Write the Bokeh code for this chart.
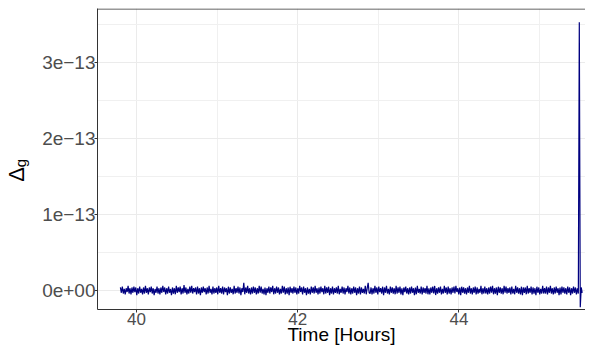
import numpy as np
from bokeh.plotting import figure
from bokeh.models import FixedTicker, Span, Range1d, LinearAxis
from bokeh.embed import file_html
from bokeh.resources import INLINE

# ---- data ----
t_start = 39.80   # hours, first sample
t_end = 45.53     # hours, last sample
# Delta_g values in units of 1e-15
delta_g_e15 = [
    4, -3, 5, -4, 2, -5, 3, -2, 6, -4, 3, -5, 4, -3, 5, -2, 4, -6, 3, -4,
    5, -3, 2, -5, 4, -4, 6, -3, 3, -5, 4, -2, 5, -4, 3, -6, 2, -3, 5, -4,
    3, -5, 4, -3, 6, -2, 4, -5, 3, -4, 5, -3, 2, -6, 4, -4, 3, -5, 6, -3,
    4, -2, 5, -5, 3, -4, 7, -3, 4, -5, 2, -4, 5, -3, 6, -4, 3, -2, 4, -5,
    5, -4, 3, -6, 4, -3, 5, -2, 3, -5, 4, -4, 6, -3, 2, -5, 5, -4, 3, -3,
    4, -5, 6, -3, 3, -4, 5, -5, 4, -2, 3, -6, 5, -4, 4, -3, 2, -5, 6, -4,
    3, -3, 5, -4, 4, -6, 3, -2, 10, -5, 4, -3, 6, -4, 3, -5, 4, -4, 5, -3,
    4, -5, 3, -4, 6, -3, 5, -4, 2, -5, 4, -6, 3, -3, 5, -4, 4, -2, 6, -5,
    3, -4, 5, -3, 4, -5, 2, -4, 6, -3, 5, -5, 3, -4, 4, -6, 5, -3, 3, -4,
    5, -3, 4, -5, 3, -4, 6, -2, 4, -5, 5, -3, 3, -6, 4, -4, 2, -5, 5, -3,
    4, -4, 6, -3, 3, -5, 4, -4, 5, -2, 3, -5, 6, -4, 4, -3, 5, -6, 3, -4,
    5, -5, 3, -3, 4, -4, 6, -5, 2, -3, 5, -4, 4, -5, 3, -2, 6, -4, 4, -5,
    3, -4, 5, -3, 4, -6, 3, -4, 5, -5, 4, -3, 2, -4, 6, -5, 3, 10, -3, -4,
    4, -5, 3, -4, 6, -3, 4, -5, 5, -2, 3, -4, 5, -6, 4, -3, 6, -4, 2, -5,
    5, -3, 4, -4, 3, -5, 6, -4, 4, -3, 5, -5, 3, -6, 4, -2, 5, -4, 3, -5,
    4, -4, 5, -3, 3, -6, 4, -5, 6, -3, 2, -4, 5, -5, 4, -3, 3, -4, 6, -5,
    3, -5, 4, -3, 5, -4, 6, -6, 3, -4, 4, -3, 5, -5, 2, -4, 6, -3, 4, -5,
    5, -4, 3, -5, 4, -3, 5, -4, 6, -2, 3, -5, 4, -6, 5, -3, 4, -4, 3, -5,
    4, -3, 6, -4, 3, -5, 4, -3, 5, -5, 4, -4, 2, -3, 6, -5, 3, -4, 5, -4,
    3, -5, 4, -4, 5, -3, 6, -5, 3, -4, 4, -6, 5, -3, 4, -4, 3, -5, 6, -3,
    5, -4, 3, -3, 4, -5, 5, -4, 2, -5, 6, -3, 4, -4, 3, -5, 5, -6, 4, -3,
    4, -5, 6, -4, 3, -3, 5, -5, 4, -4, 3, -6, 5, -3, 4, -5, 2, -4, 6, -4,
    3, -4, 5, -5, 4, -3, 6, -4, 3, -5, 4, -4, 5, -3, 3, -6, 4, -5, 5, -3,
    4, -4, 3, -5, 5, -3, 4, -6, 3, -4, 5, -3, 4, -5, 3, -4, 353, -22, 4, -3,
]

x_ticks = [40, 42, 44]
x_minor_ticks = [41, 43, 45]
y_ticks = [0, 1, 2, 3]              # in units of 1e-13
y_minor_ticks = [-0.5, 0.5, 1.5, 2.5, 3.5]
y_tick_labels = ["0e+00", "1e\u221213", "2e\u221213", "3e\u221213"]
x_title = "Time [Hours]"
y_title_main = "\u0394"
y_title_sub = "g"

# ---- derived ----
t = np.linspace(t_start, t_end, len(delta_g_e15))
y = np.array(delta_g_e15, dtype=float) / 100.0   # -> units of 1e-13

FONT = "Liberation Sans"
px_per_unit_y = 76.0
frame_top, frame_bottom, zero_px = 8, 309, 290
y_end = (zero_px - frame_top) / px_per_unit_y
y_start = -(frame_bottom - zero_px) / px_per_unit_y

p = figure(width=585, height=348, output_backend="svg", toolbar_location=None,
           x_range=Range1d(39.516, 45.571), y_range=Range1d(y_start, y_end),
           y_axis_location=None,
           min_border_left=97, min_border_right=0, min_border_top=frame_top,
           min_border_bottom=348 - frame_bottom)
p.outline_line_color = None
p.background_fill_color = "white"
p.border_fill_color = "white"

# main y axis (inner), carries the subscript "g" as its label
yax = LinearAxis(ticker=FixedTicker(ticks=y_ticks, minor_ticks=y_minor_ticks))
yax.major_label_overrides = {k: v for k, v in zip(y_ticks, y_tick_labels)}
p.add_layout(yax, "left")
# outer axis that only carries the big Delta
dax = LinearAxis(ticker=FixedTicker(ticks=[]), axis_line_color=None,
                 major_tick_line_color=None, minor_tick_line_color=None,
                 major_tick_out=0, major_tick_in=0, major_label_standoff=0)
p.add_layout(dax, "left")

p.xaxis.ticker = FixedTicker(ticks=x_ticks, minor_ticks=x_minor_ticks)
xax = p.xaxis[0]

for ax in (xax, yax):
    ax.axis_line_color = "#333333"
    ax.axis_line_width = 1
    ax.major_tick_line_color = "#333333"
    ax.major_tick_in = 0
    ax.major_tick_out = 3
    ax.minor_tick_line_color = None
    ax.major_label_text_font = FONT
    ax.major_label_text_color = "#4d4d4d"
for ax in (xax, yax, dax):
    ax.axis_label_text_font = FONT
    ax.axis_label_text_font_style = "normal"
    ax.axis_label_text_color = "black"

yax.major_label_text_font_size = "19px"
yax.major_label_standoff = -2
xax.major_label_text_font_size = "17px"
xax.major_label_standoff = -1

xax.axis_label = x_title
xax.axis_label_text_font_size = "19px"
xax.axis_label_standoff = -4

yax.axis_label = y_title_sub + "\u00a0" * 2
yax.axis_label_text_font_size = "15px"
yax.axis_label_standoff = 10

dax.axis_label = y_title_main + "\u00a0" * 5
dax.axis_label_text_font_size = "22px"
dax.axis_label_standoff = -19

# grid lines follow the bottom / inner-left axes
p.xgrid[0].ticker = xax.ticker
p.ygrid[0].ticker = yax.ticker
for g in (p.xgrid[0], p.ygrid[0]):
    g.grid_line_color = "#ebebeb"
    g.grid_line_width = 1
    g.minor_grid_line_color = "#f0f0f0"
    g.minor_grid_line_width = 1

# top border (no right border visible in the reference)
p.add_layout(Span(location=y_end - 0.5 / px_per_unit_y, dimension="width",
                  line_color="#333333", line_width=1))

p.line(t, y, line_color="#000080", line_width=1.2)

open("out.html", "w").write(file_html(p, INLINE))
